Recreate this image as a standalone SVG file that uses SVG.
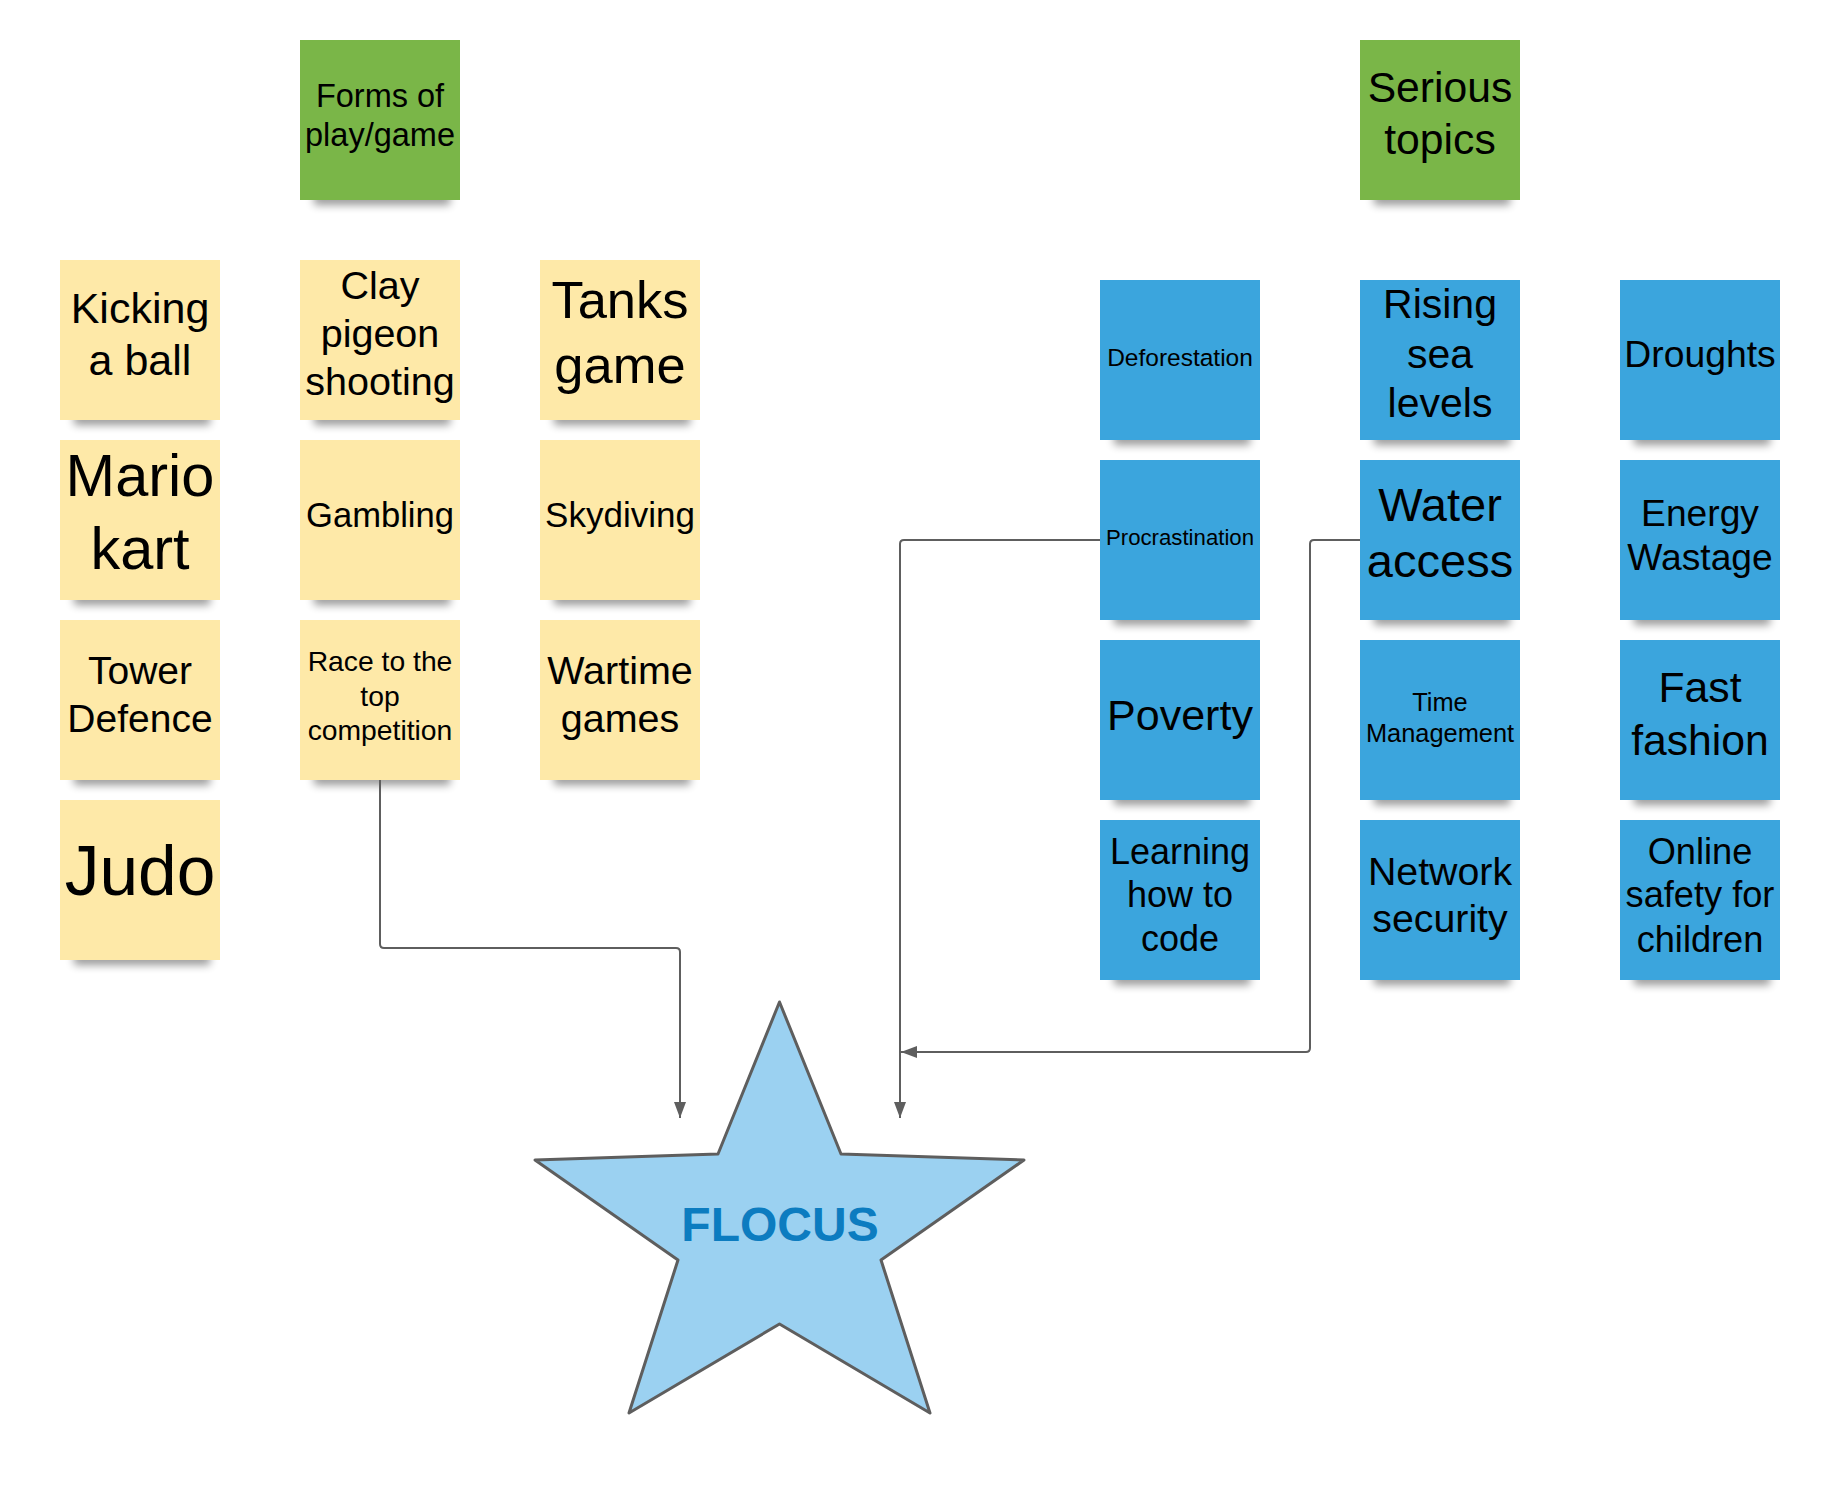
<svg xmlns="http://www.w3.org/2000/svg" width="1840" height="1500" viewBox="0 0 1840 1500">
<defs>
<filter id="blur" x="-20%" y="-100%" width="140%" height="300%"><feGaussianBlur stdDeviation="4"/></filter>
<marker id="arrow" markerUnits="userSpaceOnUse" markerWidth="18" markerHeight="14" refX="16" refY="6" orient="auto"><path d="M0,0 L16,6 L0,12 Z" fill="#5e5e5e"/></marker>
</defs>
<style>
.y{fill:#fee9a8}
.g{fill:#7ab648}
.b{fill:#3ba5dd}
.sh{fill:#000;opacity:.4;filter:url(#blur)}
text{font-family:"Liberation Sans",Arial,sans-serif;fill:#000;text-anchor:middle}
.c{fill:none;stroke:#5e5e5e;stroke-width:2;marker-end:url(#arrow)}
</style>
<rect width="1840" height="1500" fill="#fff"/>

<g id="forms"><rect class="sh" x="314" y="193" width="136" height="12"/><rect class="g" x="300" y="40" width="160" height="160"/><text font-size="32.5"><tspan x="380" y="107">Forms of</tspan><tspan x="380" y="146">play/game</tspan></text></g>
<g id="serious"><rect class="sh" x="1374" y="193" width="136" height="12"/><rect class="g" x="1360" y="40" width="160" height="160"/><text font-size="42.7"><tspan x="1440" y="102">Serious</tspan><tspan x="1440" y="154">topics</tspan></text></g>

<g id="kicking"><rect class="sh" x="74" y="413" width="136" height="12"/><rect class="y" x="60" y="260" width="160" height="160"/><text font-size="43"><tspan x="140" y="323">Kicking</tspan><tspan x="140" y="375">a ball</tspan></text></g>
<g id="mario"><rect class="sh" x="74" y="593" width="136" height="12"/><rect class="y" x="60" y="440" width="160" height="160"/><text font-size="59.5"><tspan x="140" y="496">Mario</tspan><tspan x="140" y="569">kart</tspan></text></g>
<g id="tower"><rect class="sh" x="74" y="773" width="136" height="12"/><rect class="y" x="60" y="620" width="160" height="160"/><text font-size="39"><tspan x="140" y="684">Tower</tspan><tspan x="140" y="732">Defence</tspan></text></g>
<g id="judo"><rect class="sh" x="74" y="953" width="136" height="12"/><rect class="y" x="60" y="800" width="160" height="160"/><text font-size="69.5" x="140" y="895">Judo</text></g>

<g id="clay"><rect class="sh" x="314" y="413" width="136" height="12"/><rect class="y" x="300" y="260" width="160" height="160"/><text font-size="39.5"><tspan x="380" y="299">Clay</tspan><tspan x="380" y="347">pigeon</tspan><tspan x="380" y="395">shooting</tspan></text></g>
<g id="gambling"><rect class="sh" x="314" y="593" width="136" height="12"/><rect class="y" x="300" y="440" width="160" height="160"/><text font-size="34.6" x="380" y="527">Gambling</text></g>
<g id="race"><rect class="sh" x="314" y="773" width="136" height="12"/><rect class="y" x="300" y="620" width="160" height="160"/><text font-size="28.3"><tspan x="380" y="671">Race to the</tspan><tspan x="380" y="705.5">top</tspan><tspan x="380" y="739.5">competition</tspan></text></g>

<g id="tanks"><rect class="sh" x="554" y="413" width="136" height="12"/><rect class="y" x="540" y="260" width="160" height="160"/><text font-size="52.5"><tspan x="620" y="318">Tanks</tspan><tspan x="620" y="383">game</tspan></text></g>
<g id="skydiving"><rect class="sh" x="554" y="593" width="136" height="12"/><rect class="y" x="540" y="440" width="160" height="160"/><text font-size="35" x="620" y="527">Skydiving</text></g>
<g id="wartime"><rect class="sh" x="554" y="773" width="136" height="12"/><rect class="y" x="540" y="620" width="160" height="160"/><text font-size="39.5"><tspan x="620" y="684">Wartime</tspan><tspan x="620" y="732">games</tspan></text></g>

<g id="deforestation"><rect class="sh" x="1114" y="433" width="136" height="12"/><rect class="b" x="1100" y="280" width="160" height="160"/><text font-size="24.5" x="1180" y="366">Deforestation</text></g>
<g id="procrastination"><rect class="sh" x="1114" y="613" width="136" height="12"/><rect class="b" x="1100" y="460" width="160" height="160"/><text font-size="22.2" x="1180" y="545">Procrastination</text></g>
<g id="poverty"><rect class="sh" x="1114" y="793" width="136" height="12"/><rect class="b" x="1100" y="640" width="160" height="160"/><text font-size="43" x="1180" y="730">Poverty</text></g>
<g id="learning"><rect class="sh" x="1114" y="973" width="136" height="12"/><rect class="b" x="1100" y="820" width="160" height="160"/><text font-size="36"><tspan x="1180" y="864">Learning</tspan><tspan x="1180" y="907">how to</tspan><tspan x="1180" y="951">code</tspan></text></g>

<g id="rising"><rect class="sh" x="1374" y="433" width="136" height="12"/><rect class="b" x="1360" y="280" width="160" height="160"/><text font-size="41"><tspan x="1440" y="318">Rising</tspan><tspan x="1440" y="368">sea</tspan><tspan x="1440" y="417">levels</tspan></text></g>
<g id="water"><rect class="sh" x="1374" y="613" width="136" height="12"/><rect class="b" x="1360" y="460" width="160" height="160"/><text font-size="47"><tspan x="1440" y="521">Water</tspan><tspan x="1440" y="577">access</tspan></text></g>
<g id="time"><rect class="sh" x="1374" y="793" width="136" height="12"/><rect class="b" x="1360" y="640" width="160" height="160"/><text font-size="25.4"><tspan x="1440" y="711">Time</tspan><tspan x="1440" y="741.5">Management</tspan></text></g>
<g id="network"><rect class="sh" x="1374" y="973" width="136" height="12"/><rect class="b" x="1360" y="820" width="160" height="160"/><text font-size="39.3"><tspan x="1440" y="885">Network</tspan><tspan x="1440" y="932">security</tspan></text></g>

<g id="droughts"><rect class="sh" x="1634" y="433" width="136" height="12"/><rect class="b" x="1620" y="280" width="160" height="160"/><text font-size="37.3" x="1700" y="367">Droughts</text></g>
<g id="energy"><rect class="sh" x="1634" y="613" width="136" height="12"/><rect class="b" x="1620" y="460" width="160" height="160"/><text font-size="37.2"><tspan x="1700" y="525.5">Energy</tspan><tspan x="1700" y="570">Wastage</tspan></text></g>
<g id="fast"><rect class="sh" x="1634" y="793" width="136" height="12"/><rect class="b" x="1620" y="640" width="160" height="160"/><text font-size="42.7"><tspan x="1700" y="702">Fast</tspan><tspan x="1700" y="755">fashion</tspan></text></g>
<g id="online"><rect class="sh" x="1634" y="973" width="136" height="12"/><rect class="b" x="1620" y="820" width="160" height="160"/><text font-size="36.2"><tspan x="1700" y="864">Online</tspan><tspan x="1700" y="907">safety for</tspan><tspan x="1700" y="951.5">children</tspan></text></g>

<g id="flocus"><path d="M779.5,1002 L841,1154 L1024,1160 L881,1260 L930,1413 L779.5,1324 L629,1413 L678,1260 L535,1160 L718,1154 Z" fill="#9bd1f1" stroke="#5e5e5e" stroke-width="3" stroke-linejoin="round"/><text font-size="48" font-weight="bold" x="780" y="1241" style="fill:#0c7cc0">FLOCUS</text></g>

<g id="connectors">
<path class="c" d="M380,780 V944 Q380,948 384,948 H676 Q680,948 680,952 V1118"/>
<path class="c" d="M1100,540 H904 Q900,540 900,544 V1118"/>
<path class="c" d="M1360,540 H1314 Q1310,540 1310,544 V1048 Q1310,1052 1306,1052 H901"/>
</g>
</svg>
